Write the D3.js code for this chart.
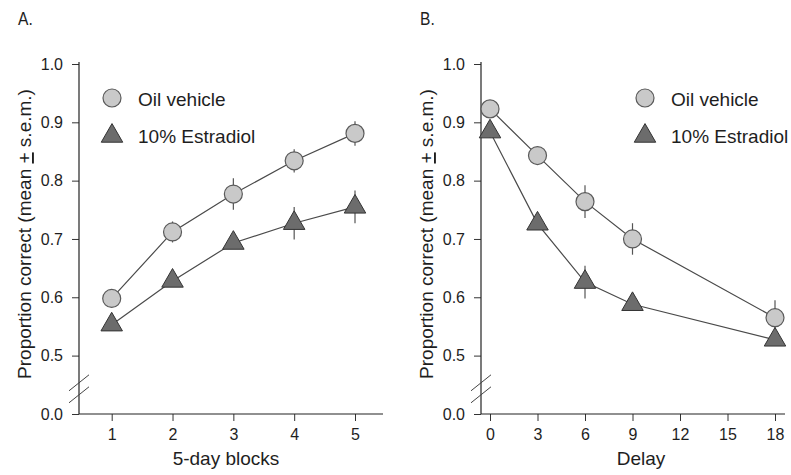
<!DOCTYPE html>
<html>
<head>
    <title>Proportion correct</title>
    <script src="https://d3js.org/d3.v7.min.js"></script>
    <style>
        body { margin: 0; background: #fff; }
        text { font-family: "Liberation Sans", Arial, sans-serif; fill: #1e1e1e; }
    </style>
</head>
<body>
    <svg id="chart"></svg>

    <script>
        // panel A: 5-day blocks
        const blocks = [1, 2, 3, 4, 5];
        const oilA = [0.598, 0.712, 0.777, 0.834, 0.881];
        const oilAErr = [0.008, 0.018, 0.027, 0.020, 0.021];
        const estA = [0.553, 0.628, 0.693, 0.727, 0.755];
        const estAErr = [0.006, 0.008, 0.010, 0.028, 0.028];

        // panel B: delay
        const delays = [0, 3, 6, 9, 18];
        const delayTicks = [0, 3, 6, 9, 12, 15, 18];
        const oilB = [0.923, 0.843, 0.764, 0.700, 0.565];
        const oilBErr = [0.010, 0.010, 0.028, 0.027, 0.030];
        const estB = [0.884, 0.726, 0.626, 0.588, 0.527];
        const estBErr = [0.010, 0.010, 0.028, 0.010, 0.010];

        const yTicks = [0.0, 0.5, 0.6, 0.7, 0.8, 0.9, 1.0];
        const legendNames = ["Oil vehicle", "10% Estradiol"];

        const width = 791, height = 475;
        const svg = d3.select("#chart").attr("width", width).attr("height", height);

        // broken axis: 0.0 sits one step below 0.5
        const y = d3.scaleLinear().domain([0, 0.5, 1.0]).range([414, 355.6, 64]);

        function panel(opts) {
            const g = svg.append("g");
            const x = opts.x;

            // y axis
            const yAxis = g.append("g")
                .attr("transform", `translate(${opts.left},0)`)
                .call(d3.axisLeft(y).tickValues(yTicks).tickFormat(d3.format(".1f"))
                    .tickSize(7).tickPadding(9).tickSizeOuter(0));
            yAxis.select(".domain").remove();
            yAxis.selectAll("text").style("font-size", "16px");
            yAxis.selectAll("line").attr("stroke", "#333");
            g.append("line")
                .attr("x1", opts.left).attr("x2", opts.left)
                .attr("y1", y(1.0) - 2).attr("y2", y(0))
                .attr("stroke", "#222").attr("stroke-width", 1.2);

            // break marks
            const mid = (y(0) + y(0.5)) / 2 + 4;
            [-6, 6].forEach(o => {
                g.append("line")
                    .attr("x1", opts.left - 10).attr("y1", mid + o + 8)
                    .attr("x2", opts.left + 10).attr("y2", mid + o - 8)
                    .attr("stroke", "#444").attr("stroke-width", 1);
            });

            // x axis
            const xAxis = g.append("g")
                .attr("transform", `translate(0,${y(0)})`)
                .call(d3.axisBottom(x).tickValues(opts.ticks).tickFormat(d3.format("d"))
                    .tickSize(7).tickPadding(8).tickSizeOuter(0));
            xAxis.select(".domain").remove();
            xAxis.selectAll("text").style("font-size", "16px");
            xAxis.selectAll("line").attr("stroke", "#333");
            g.append("line")
                .attr("x1", opts.left).attr("x2", opts.right)
                .attr("y1", y(0)).attr("y2", y(0))
                .attr("stroke", "#222").attr("stroke-width", 1.2);

            // titles
            g.append("text")
                .attr("x", (opts.titleX)).attr("y", 465)
                .attr("text-anchor", "middle").style("font-size", "19px")
                .text(opts.xTitle);
            const yt = g.append("text")
                .attr("transform", `translate(${opts.left - 48},234) rotate(-90)`)
                .attr("text-anchor", "middle").style("font-size", "19px");
            yt.append("tspan").text("Proportion correct (mean ");
            yt.append("tspan").attr("text-decoration", "underline").text("+");
            yt.append("tspan").text(" s.e.m.)");

            g.append("text")
                .attr("transform", `translate(${opts.left - 61},25) scale(0.82,1)`)
                .style("font-size", "19px")
                .text(opts.label);

            const line = d3.line().x(d => x(d[0])).y(d => y(d[1]));
            const tri = d3.symbol().type(d3.symbolTriangle).size(200);

            const series = [
                { vals: opts.oil, err: opts.oilErr, kind: "circle" },
                { vals: opts.est, err: opts.estErr, kind: "tri" }
            ];

            series.forEach(s => {
                const pts = opts.xs.map((v, i) => [v, s.vals[i], s.err[i]]);
                g.append("path")
                    .attr("d", line(pts))
                    .attr("fill", "none").attr("stroke", "#4a4a4a").attr("stroke-width", 1.2);
                g.selectAll(null).data(pts).enter().append("line")
                    .attr("x1", d => x(d[0])).attr("x2", d => x(d[0]))
                    .attr("y1", d => y(d[1] + d[2])).attr("y2", d => y(d[1] - d[2]))
                    .attr("stroke", "#555").attr("stroke-width", 1.2);
            });

            series.forEach(s => {
                const pts = opts.xs.map((v, i) => [v, s.vals[i]]);
                if (s.kind === "circle") {
                    g.selectAll(null).data(pts).enter().append("circle")
                        .attr("cx", d => x(d[0])).attr("cy", d => y(d[1])).attr("r", 9)
                        .attr("fill", "#c9c9c9").attr("stroke", "#5a5a5a").attr("stroke-width", 1.2);
                } else {
                    g.selectAll(null).data(pts).enter().append("path")
                        .attr("d", tri)
                        .attr("transform", d => `translate(${x(d[0])},${y(d[1])})`)
                        .attr("fill", "#6c6c6c").attr("stroke", "#333").attr("stroke-width", 1);
                }
            });

            // legend
            const lg = g.append("g");
            lg.append("circle").attr("cx", opts.legX).attr("cy", 98).attr("r", 9)
                .attr("fill", "#c9c9c9").attr("stroke", "#5a5a5a").attr("stroke-width", 1.2);
            lg.append("path").attr("d", tri)
                .attr("transform", `translate(${opts.legX},136)`)
                .attr("fill", "#6c6c6c").attr("stroke", "#333").attr("stroke-width", 1);
            legendNames.forEach((n, i) => {
                lg.append("text")
                    .attr("x", opts.legX + 26).attr("y", 106 + i * 37)
                    .style("font-size", "19px").text(n);
            });
        }

        panel({
            label: "A.",
            left: 79, right: 383,
            x: d3.scaleLinear().domain([1, 5]).range([111.7, 355]),
            ticks: blocks, xs: blocks,
            oil: oilA, oilErr: oilAErr, est: estA, estErr: estAErr,
            xTitle: "5-day blocks", titleX: 226,
            legX: 112
        });

        panel({
            label: "B.",
            left: 481, right: 785,
            x: d3.scaleLinear().domain([0, 18]).range([490, 775]),
            ticks: delayTicks, xs: delays,
            oil: oilB, oilErr: oilBErr, est: estB, estErr: estBErr,
            xTitle: "Delay", titleX: 641,
            legX: 645
        });
    </script>
</body>
</html>
